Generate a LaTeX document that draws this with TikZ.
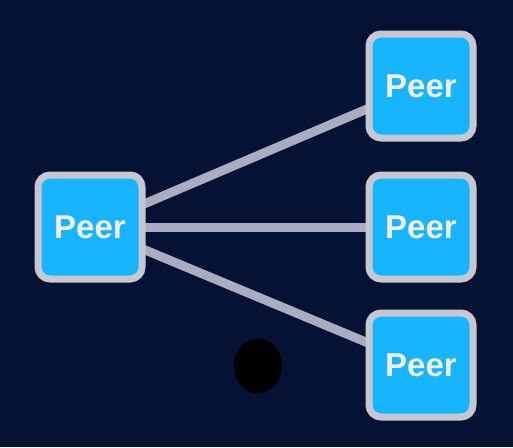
\documentclass[tikz,border=0pt]{standalone}
\usepackage{fontspec}
\setmainfont{Liberation Sans}
\usetikzlibrary{shapes.geometric,backgrounds}
\definecolor{bg}{HTML}{061233}
\definecolor{peerfill}{HTML}{19B4FE}
\definecolor{peerborder}{HTML}{C6C7D3}
\definecolor{linkcol}{HTML}{A9ADC1}
\definecolor{peertext}{HTML}{EEF0F5}
\begin{document}
\begin{tikzpicture}[x=1pt,y=-1pt,
  peer/.style={draw=peerborder, fill=peerfill, line width=7pt, rounded corners=12pt,
    minimum width=104pt, minimum height=104pt, inner sep=0pt,
    text=peertext, font=\fontsize{33}{33}\selectfont\bfseries},
  link/.style={draw=linkcol, line width=9pt}]
\node[peer] (l) at (90,227) {Peer};
\node[peer] (r1) at (421,86) {Peer};
\node[peer] (r2) at (421,227) {Peer};
\node[peer] (r3) at (421,365) {Peer};
\node[ellipse, fill=black, minimum width=48pt, minimum height=55pt, inner sep=0pt] (dot) at (258,366) {};
\begin{scope}[on background layer]
\fill[bg] (0,0) rectangle (513,447);
\draw[link] (l.center) -- (r1.center);
\draw[link] (l.center) -- (r2.center);
\draw[link] (l.center) -- (r3.center);
\end{scope}
\useasboundingbox (0,0) rectangle (513,447);
\end{tikzpicture}
\end{document}
